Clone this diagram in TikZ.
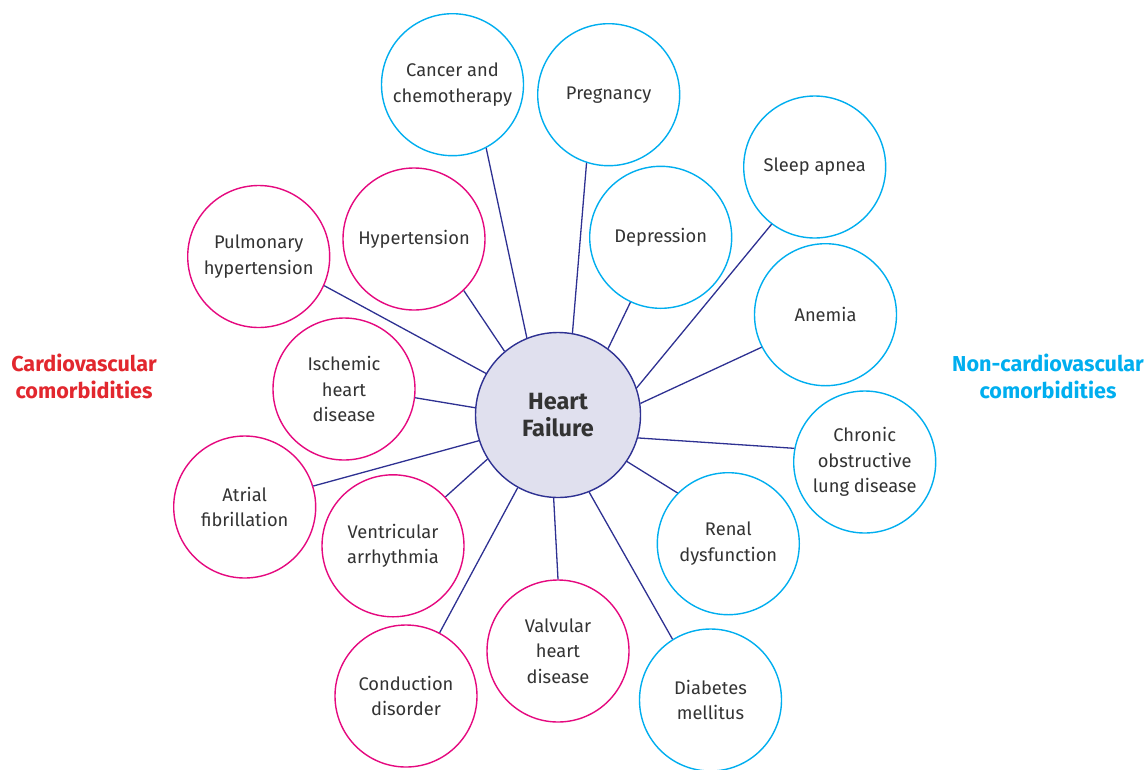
\documentclass[tikz,border=0pt]{standalone}
\usepackage{fontspec}
\setmainfont{Fira Sans}
\usepackage{tikz}
\definecolor{cvred}{HTML}{E2272E}
\definecolor{cvpink}{HTML}{E5097F}
\definecolor{ncblue}{HTML}{00AEEF}
\definecolor{hfnavy}{HTML}{2E3192}
\definecolor{hffill}{HTML}{E0E0EE}
\definecolor{txtgray}{HTML}{333333}

\begin{document}
\begin{tikzpicture}[x=1pt,y=-1pt,
		comorb/.style={circle,draw,line width=1.4pt,fill=white,minimum size=142pt,inner sep=0pt,align=center,text=txtgray,font=\fontsize{18.3}{25.5}\selectfont},
		cardio/.style={comorb,draw=cvpink},
		noncardio/.style={comorb,draw=ncblue},
		hub/.style={circle,draw=hfnavy,line width=1.4pt,fill=hffill,minimum size=165pt,inner sep=0pt,align=center,text=txtgray,font=\fontsize{23.5}{27}\selectfont\bfseries},
		link/.style={draw=hfnavy,line width=1.3pt},
		side/.style={align=center,font=\fontsize{21.6}{27}\selectfont\bfseries}]
				\useasboundingbox (0,0) rectangle (1148,769);
				
				\node[hub] (hf) at (558,415) {Heart\\Failure};
				
				% cardiovascular
				\node[cardio] (pulm) at (258.7,256.5) {Pulmonary\\hypertension};
				\node[cardio] (htn) at (414,239) {Hypertension};
				\node[cardio] (ihd) at (344,389) {Ischemic\\heart\\disease};
				\node[cardio] (af) at (244.7,507) {Atrial\\fibrillation};
				\node[cardio] (va) at (393,545.8) {Ventricular\\arrhythmia};
				\node[cardio] (cd) at (406,696) {Conduction\\disorder};
				\node[cardio] (vhd) at (558,651) {Valvular\\heart\\disease};
				
				% non-cardiovascular
				\node[noncardio] (cancer) at (452.5,84.7) {Cancer and\\chemotherapy};
				\node[noncardio] (preg) at (608.7,94.7) {Pregnancy};
				\node[noncardio] (dep) at (660.7,237.3) {Depression};
				\node[noncardio] (sleep) at (814.7,167) {Sleep apnea};
				\node[noncardio] (anem) at (825.5,314.7) {Anemia};
				\node[noncardio] (copd) at (864.7,462) {Chronic\\obstructive\\lung disease};
				\node[noncardio] (renal) at (728.3,543.7) {Renal\\dysfunction};
				\node[noncardio] (dm) at (710.5,700) {Diabetes\\mellitus};
				
				\draw[link] (cancer.298.6) -- (hf.112.8);
				\draw[link] (preg.252.4) -- (hf.80.3);
				\draw[link] (htn.314.4) -- (hf.130.6);
				\draw[link] (dep.245.7) -- (hf.53.3);
				\draw[link] (pulm.336.7) -- (hf.150.9);
				\draw[link] (ihd.353.7) -- (hf.175.2);
				\draw[link] (af.17.6) -- (hf.198.6);
				\draw[link] (va.43.8) -- (hf.212.4);
				\draw[link] (cd.62) -- (hf.241.9);
				\draw[link] (vhd.90) -- (hf.267.3);
				\draw[link] (dm.122.7) -- (hf.292);
				\draw[link] (renal.135.3) -- (hf.326.1);
				\draw[link] (copd.169) -- (hf.344.8);
				\draw[link] (anem.207) -- (hf.8.2);
				\draw[link] (sleep.233.5) -- (hf.19.7);
				
				\node[side,text=cvred] (cvlabel) at (84,376) {Cardiovascular\\comorbidities};
				\node[side,text=ncblue] (nclabel) at (1048,376) {Non-cardiovascular\\comorbidities};
			\end{tikzpicture}
\end{document}
